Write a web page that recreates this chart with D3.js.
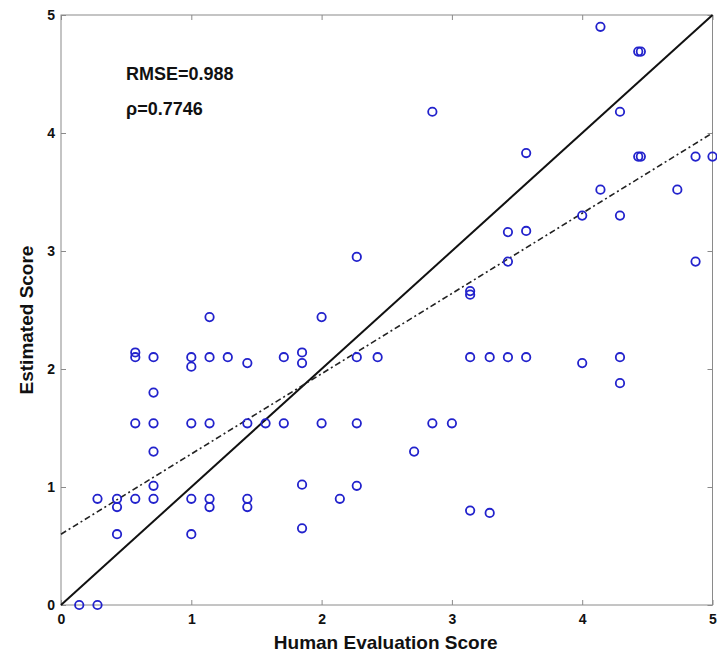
<!DOCTYPE html>
<html>
<head>
<meta charset="utf-8">
<script src="https://cdn.jsdelivr.net/npm/d3@7"></script>
<style>
  body { margin: 0; background: #fff; }
  text { font-family: "Liberation Sans", Arial, sans-serif; font-weight: bold; }
</style>
</head>
<body>
<div id="chart"></div>
<script>
let margin = {top: 15, right: 4, bottom: 50, left: 61},
    width = 717 - margin.left - margin.right,
    height = 655 - margin.top - margin.bottom;

// human score (x) / estimated score (y)
let humanScore = [0.14, 0.28, 0.28, 0.43, 0.43, 0.43, 0.57, 0.57, 0.57, 0.57,
  0.71, 0.71, 0.71, 0.71, 0.71, 0.71, 1.0, 1.0, 1.0, 1.0, 1.0,
  1.14, 1.14, 1.14, 1.14, 1.14, 1.28, 1.43, 1.43, 1.43, 1.43, 1.57,
  1.71, 1.71, 1.85, 1.85, 1.85, 1.85, 2.0, 2.0, 2.14, 2.27, 2.27, 2.27, 2.27,
  2.43, 2.71, 2.85, 2.85, 3.0, 3.14, 3.14, 3.14, 3.14, 3.29, 3.29,
  3.43, 3.43, 3.43, 3.57, 3.57, 3.57, 4.0, 4.0, 4.14, 4.14, 4.29, 4.29, 4.29, 4.29,
  4.43, 4.45, 4.43, 4.45, 4.73, 4.87, 4.87, 5.0];
let estScore = [0, 0, 0.90, 0.90, 0.83, 0.60, 2.14, 2.10, 1.54, 0.90,
  2.10, 1.80, 1.54, 1.30, 1.01, 0.90, 2.10, 2.02, 1.54, 0.90, 0.60,
  2.44, 2.10, 1.54, 0.90, 0.83, 2.10, 2.05, 1.54, 0.90, 0.83, 1.54,
  2.10, 1.54, 2.14, 2.05, 1.02, 0.65, 2.44, 1.54, 0.90, 2.95, 2.10, 1.54, 1.01,
  2.10, 1.30, 4.18, 1.54, 1.54, 2.66, 2.63, 2.10, 0.80, 2.10, 0.78,
  3.16, 2.91, 2.10, 3.83, 3.17, 2.10, 3.30, 2.05, 4.90, 3.52, 4.18, 3.30, 2.10, 1.88,
  4.69, 4.69, 3.80, 3.80, 3.52, 3.80, 2.91, 3.80];

let ticks = [0, 1, 2, 3, 4, 5];
let fitLine = [[0, 0.6], [5, 4.0]];
let idealLine = [[0, 0], [5, 5]];
let stats = ['RMSE=0.988', 'ρ=0.7746'];

let svg = d3.select('#chart')
  .append('svg')
    .attr('width', width + margin.left + margin.right)
    .attr('height', height + margin.top + margin.bottom)
  .append('g')
    .attr('transform', `translate(${margin.left},${margin.top})`);

let x = d3.scaleLinear().domain([0, 5]).range([0, 651.5]);
let y = d3.scaleLinear().domain([0, 5]).range([height, 0]);

// box + ticks (inward, mirrored like matlab)
let gridColor = '#8a8a8a';
svg.append('rect')
  .attr('x', 0).attr('y', 0)
  .attr('width', x(5)).attr('height', height)
  .attr('fill', 'none').attr('stroke', gridColor).attr('stroke-width', 1);

let bx = svg.append('g').attr('transform', `translate(0,${height})`)
  .call(d3.axisBottom(x).tickValues(ticks).tickSize(-5).tickPadding(9).tickFormat(d3.format('d')));
let tx = svg.append('g')
  .call(d3.axisTop(x).tickValues(ticks).tickSize(-5).tickFormat(''));
let ly = svg.append('g')
  .call(d3.axisLeft(y).tickValues(ticks).tickSize(-5).tickPadding(6).tickFormat(d3.format('d')));
let ry = svg.append('g').attr('transform', `translate(${x(5)},0)`)
  .call(d3.axisRight(y).tickValues(ticks).tickSize(-5).tickFormat(''));

[bx, tx, ly, ry].forEach(function(a) {
  a.select('.domain').remove();
  a.selectAll('line').attr('stroke', gridColor);
  a.selectAll('text').attr('fill', '#111').style('font-size', '14px').style('font-weight', 'bold');
});

let line = d3.line().x(d => x(d[0])).y(d => y(d[1]));

svg.append('path').datum(idealLine)
  .attr('d', line).attr('stroke', '#111').attr('stroke-width', 2).attr('fill', 'none');

svg.append('path').datum(fitLine)
  .attr('d', line).attr('stroke', '#222').attr('stroke-width', 1.6)
  .attr('stroke-dasharray', '6,3,2,3').attr('fill', 'none');

svg.append('g')
  .selectAll('circle')
  .data(humanScore)
  .enter()
  .append('circle')
    .attr('cx', (d, i) => x(d))
    .attr('cy', (d, i) => y(estScore[i]))
    .attr('r', 4.2)
    .attr('fill', 'none')
    .attr('stroke', '#2222cc')
    .attr('stroke-width', 1.8);

svg.selectAll('.stat')
  .data(stats)
  .enter()
  .append('text')
    .attr('x', 65)
    .attr('y', (d, i) => 65 + i * 35)
    .style('font-size', '18px')
    .attr('fill', '#111')
    .text(d => d);

svg.append('text')
  .attr('x', x(2.5) - 1).attr('y', height + 44)
  .attr('text-anchor', 'middle')
  .style('font-size', '19px').attr('fill', '#111')
  .text('Human Evaluation Score');

svg.append('text')
  .attr('transform', `translate(-28,${y(2.5) + 10}) rotate(-90)`)
  .attr('text-anchor', 'middle')
  .style('font-size', '19px').attr('fill', '#111')
  .text('Estimated Score');
</script>
</body>
</html>
